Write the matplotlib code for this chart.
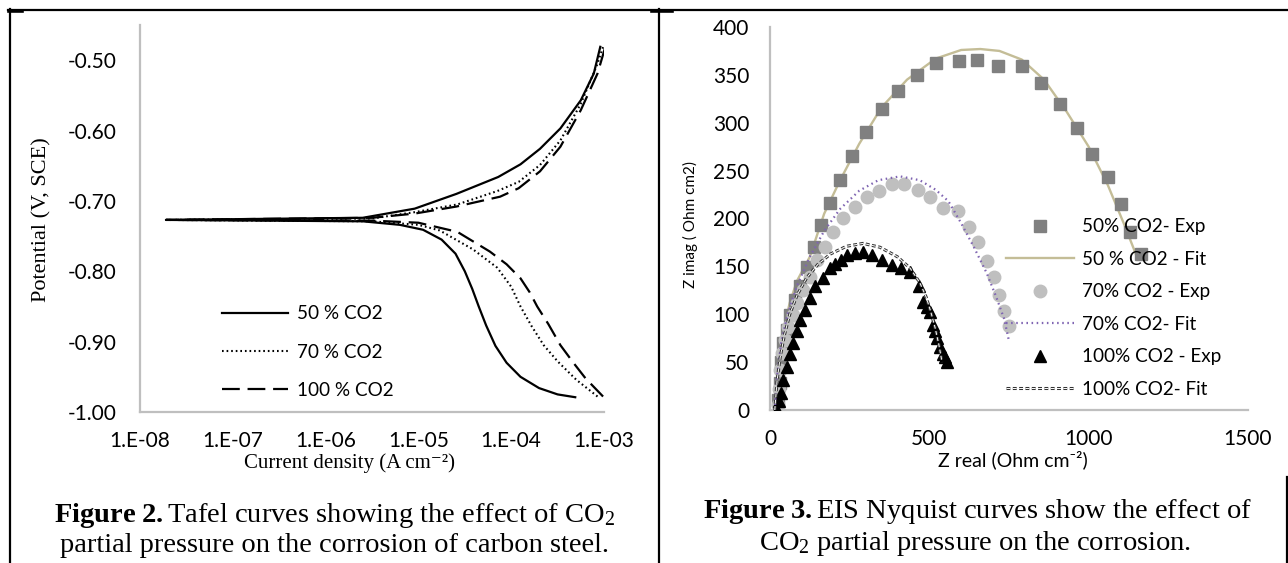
import matplotlib
matplotlib.use("Agg")
import numpy as np
import matplotlib.pyplot as plt
import matplotlib.patheffects as pe
from matplotlib.lines import Line2D
from matplotlib.ticker import FixedLocator, FuncFormatter, NullLocator

plt.rcParams["mathtext.fontset"] = "custom"
plt.rcParams["mathtext.rm"] = "Liberation Serif"
plt.rcParams["mathtext.it"] = "Liberation Serif:italic"
plt.rcParams["mathtext.bf"] = "Liberation Serif:bold"

SANS = ["Lato", "DejaVu Sans"]
SERIF = ["Liberation Serif", "DejaVu Serif"]
AXIS_GREY = "#BFBFBF"

# ---- Tafel curves (log10 of current density in A cm-2, potential in V vs SCE)
tafel_start_log_i = -7.72
tafel_start_E = -0.727

cath50_log_i = [-5.6, -5.2, -4.95, -4.75, -4.6, -4.5, -4.42, -4.35, -4.27, -4.17, -4.05, -3.9, -3.7, -3.5, -3.31]
cath50_E = [-0.729, -0.734, -0.741, -0.755, -0.775, -0.800, -0.825, -0.850, -0.877, -0.906, -0.930, -0.950, -0.966, -0.975, -0.979]
anod50_log_i = [-5.6, -5.04, -4.59, -4.14, -3.9, -3.69, -3.47, -3.25, -3.11, -3.04]
anod50_E = [-0.724, -0.711, -0.690, -0.666, -0.648, -0.626, -0.597, -0.557, -0.519, -0.481]

cath70_log_i = [-5.5, -5.0, -4.77, -4.41, -4.15, -4.0, -3.9, -3.78, -3.65, -3.5, -3.3, -3.07]
cath70_E = [-0.729, -0.734, -0.742, -0.769, -0.795, -0.822, -0.850, -0.878, -0.905, -0.928, -0.954, -0.978]
anod70_log_i = [-5.5, -5.04, -4.58, -4.15, -3.92, -3.69, -3.47, -3.25, -3.07, -3.01]
anod70_E = [-0.725, -0.716, -0.705, -0.686, -0.673, -0.649, -0.614, -0.562, -0.505, -0.481]

cath100_log_i = [-5.5, -5.0, -4.58, -4.23, -4.05, -3.9, -3.8, -3.72, -3.6, -3.47, -3.33, -3.2, -3.01]
cath100_E = [-0.728, -0.731, -0.744, -0.772, -0.790, -0.810, -0.830, -0.850, -0.875, -0.905, -0.930, -0.952, -0.978]
anod100_log_i = [-5.5, -5.04, -4.59, -4.12, -3.92, -3.69, -3.47, -3.25, -3.07, -2.99]
anod100_E = [-0.724, -0.718, -0.708, -0.694, -0.682, -0.658, -0.623, -0.571, -0.519, -0.483]

tafel_labels = ["50 % CO2", "70 % CO2", "100 % CO2"]

# ---- Nyquist data (Ohm cm2)
exp50_zr = [25, 30, 36, 42, 52, 63, 78, 94, 115, 137, 159, 187, 220, 257, 301, 352, 401, 460, 521, 592,
            651, 717, 792, 850, 909, 962, 1009, 1060, 1100, 1129, 1163]
exp50_zi = [10, 28, 50, 70, 84, 99, 115, 130, 149, 170, 193, 216, 240, 265, 290, 314, 333, 350, 362, 365,
            366, 359, 359, 341, 320, 295, 267, 243, 215, 186, 163]
fit50_zr = [15, 22, 32, 45, 62, 85, 125, 170, 220, 280, 350, 430, 520, 600, 660, 720, 790, 860, 930, 1000,
            1060, 1110, 1155]
fit50_zi = [0, 30, 60, 88, 112, 135, 160, 205, 240, 278, 316, 345, 367, 376, 377, 375, 366, 345, 312, 275,
            235, 195, 157]

exp70_zr = [25, 28, 32, 38, 47, 56, 72, 85, 104, 125, 147, 172, 198, 229, 267, 303, 342, 383, 422, 464,
            503, 543, 590, 623, 653, 682, 704, 718, 733, 750]
exp70_zi = [5, 22, 42, 60, 73, 87, 99, 112, 125, 139, 157, 170, 186, 201, 212, 222, 229, 236, 236, 230,
            222, 211, 208, 191, 175, 156, 139, 120, 103, 88]
fit70_zr = [15, 22, 35, 55, 85, 125, 170, 220, 280, 340, 408, 470, 520, 560, 600, 640, 680, 710, 735, 750]
fit70_zi = [0, 35, 70, 100, 130, 160, 187, 210, 229, 240, 244, 240, 230, 218, 195, 170, 143, 118, 95, 72]

exp100_zr = [22, 28, 34, 42, 52, 63, 72, 85, 94, 110, 125, 141, 166, 188, 205, 222, 241, 267, 292, 320,
             351, 383, 410, 440, 468, 480, 493, 502, 511, 518, 524, 534, 543, 549, 555]
exp100_zi = [0, 9, 18, 31, 45, 59, 70, 82, 94, 104, 117, 129, 138, 148, 153, 157, 162, 164, 165, 162,
             157, 151, 148, 144, 130, 113, 108, 102, 89, 82, 75, 66, 59, 55, 50]
fit100_zr = [15, 22, 32, 45, 62, 85, 115, 150, 190, 240, 292, 345, 400, 440, 470, 490, 505, 518, 530, 540]
fit100_zi = [0, 30, 55, 78, 100, 120, 138, 152, 163, 171, 174, 170, 160, 148, 133, 118, 102, 86, 68, 50]

nyq_labels = ["50% CO2- Exp", "50 % CO2 - Fit", "70% CO2 - Exp", "70% CO2- Fit",
              "100% CO2 - Exp", "100% CO2- Fit"]

W, H = 1288, 563
fig = plt.figure(figsize=(W / 100, H / 100), dpi=100)


def fx(x):
    return x / W


def fy(y):
    return 1 - y / H


def axes_at(x0, y0, x1, y1):
    return fig.add_axes([fx(x0), fy(y1), fx(x1) - fx(x0), fy(y0) - fy(y1)])


def style_axes(ax):
    for side in ("top", "right"):
        ax.spines[side].set_visible(False)
    for side in ("left", "bottom"):
        ax.spines[side].set_color(AXIS_GREY)
        ax.spines[side].set_linewidth(1.6)
    ax.tick_params(length=0)
    ax.set_facecolor("none")


def tafel_path(cath_log, cath_E, anod_log, anod_E):
    # cathodic branch back to Ecorr, out to the low-current end, then the anodic branch
    log_i = list(cath_log[::-1]) + [tafel_start_log_i] + list(anod_log)
    E = list(cath_E[::-1]) + [tafel_start_E] + list(anod_E)
    return np.power(10.0, log_i), np.array(E)


# ---------------- left: Tafel plot
ax1 = axes_at(140, 25, 604, 412)
style_axes(ax1)
ax1.set_xscale("log")
ax1.set_xlim(1e-8, 1e-3)
ax1.set_ylim(-1.0, -0.45)

i50, E50 = tafel_path(cath50_log_i, cath50_E, anod50_log_i, anod50_E)
i70, E70 = tafel_path(cath70_log_i, cath70_E, anod70_log_i, anod70_E)
i100, E100 = tafel_path(cath100_log_i, cath100_E, anod100_log_i, anod100_E)

l50, = ax1.plot(i50, E50, color="black", lw=1.6, solid_joinstyle="round")
l70, = ax1.plot(i70, E70, color="black", lw=1.5, linestyle=(0, (0.8, 1.4)))
l100, = ax1.plot(i100, E100, color="black", lw=1.6, linestyle=(0, (8, 3.5)))

ax1.xaxis.set_major_locator(FixedLocator([1e-8, 1e-7, 1e-6, 1e-5, 1e-4, 1e-3]))
ax1.xaxis.set_minor_locator(NullLocator())
ax1.xaxis.set_major_formatter(FuncFormatter(lambda v, p: "1.E%+03d" % int(round(np.log10(v)))))
ax1.yaxis.set_major_locator(FixedLocator([-1.0, -0.9, -0.8, -0.7, -0.6, -0.5]))
ax1.yaxis.set_major_formatter(FuncFormatter(lambda v, p: "%.2f" % v))
for lab in ax1.get_xticklabels() + ax1.get_yticklabels():
    lab.set_fontfamily(SANS)
    lab.set_fontsize(15)
ax1.tick_params(axis="y", pad=17)
ax1.tick_params(axis="x", pad=14)

fig.text(fx(42), fy(220), "Potential (V, SCE)", rotation=90, ha="center", va="center",
         family=SERIF, fontsize=16)
fig.text(fx(349), fy(463), "Current density (A cm\u207b\u00b2)", ha="center", va="center",
         family=SERIF, fontsize=15)

fig.legend([l50, l70, l100], tafel_labels, loc="center left",
           bbox_to_anchor=(fx(222), fy(352)), bbox_transform=fig.transFigure,
           frameon=False, borderpad=0, borderaxespad=0, handlelength=3.5,
           handletextpad=0.45, labelspacing=1.12, prop={"family": SANS, "size": 13.6})

# ---------------- right: Nyquist plot
ax2 = axes_at(770, 27, 1248, 410)
style_axes(ax2)
ax2.set_xlim(0, 1500)
ax2.set_ylim(0, 400)
ax2.set_xticks([0, 500, 1000, 1500])
ax2.set_yticks(np.arange(0, 401, 50))
for lab in ax2.get_xticklabels() + ax2.get_yticklabels():
    lab.set_fontfamily(SANS)
    lab.set_fontsize(15)
ax2.tick_params(axis="y", pad=15)
ax2.tick_params(axis="x", pad=14)

h_exp50, = ax2.plot(exp50_zr, exp50_zi, "s", color="#808080", ms=8, mec="#808080", zorder=3)
h_fit50, = ax2.plot(fit50_zr, fit50_zi, "-", color="#C4BD97", lw=1.7, zorder=2)
h_exp70, = ax2.plot(exp70_zr, exp70_zi, "o", color="#BFBFBF", ms=9, mec="#BFBFBF", zorder=3)
h_fit70, = ax2.plot(fit70_zr, fit70_zi, color="#7F64B2", lw=1.6, linestyle=(0, (0.7, 1.6)), zorder=4)
h_exp100, = ax2.plot(exp100_zr, exp100_zi, "^", color="black", ms=8.5, zorder=3)
h_fit100, = ax2.plot(fit100_zr, fit100_zi, color="white", lw=0.7, linestyle=(0, (4, 2.5)), zorder=4,
                     path_effects=[pe.Stroke(linewidth=2.2, foreground="#333333"), pe.Normal()])

fig.legend([h_exp50, h_fit50, h_exp70, h_fit70, h_exp100, h_fit100], nyq_labels,
           loc="center left", bbox_to_anchor=(fx(1006), fy(308)), bbox_transform=fig.transFigure,
           frameon=False, borderpad=0, borderaxespad=0, handlelength=3.6, numpoints=1,
           handletextpad=0.42, labelspacing=0.82, prop={"family": SANS, "size": 13.6})

fig.text(fx(690), fy(225), "Z imag ( Ohm cm2)", rotation=90, ha="center", va="center",
         family=SANS, fontsize=11)
fig.text(fx(1013), fy(460), "Z real (Ohm cm\u207b\u00b2)", ha="center", va="center",
         family=SANS, fontsize=14)

# ---------------- captions
fig.text(fx(335), fy(515), r"$\mathbf{Figure\ 2.}$Tafel curves showing the effect of CO$_2$",
         ha="center", va="center", family=SERIF, fontsize=20.5)
fig.text(fx(335), fy(545), "partial pressure on the corrosion of carbon steel.",
         ha="center", va="center", family=SERIF, fontsize=20.5)
fig.text(fx(977), fy(512), r"$\mathbf{Figure\ 3.}$EIS Nyquist curves show the effect of",
         ha="center", va="center", family=SERIF, fontsize=20.5)
fig.text(fx(975), fy(543), r"CO$_2$ partial pressure on the corrosion.",
         ha="center", va="center", family=SERIF, fontsize=20.5)

# ---------------- table rules around the two panels
rules = [((8, 1288), (9.5, 9.5), 1.6),
         ((9.5, 9.5), (9, 563), 1.6),
         ((659, 659), (9, 563), 1.6),
         ((1287, 1287), (477, 563), 1.6),
         ((9, 22), (11, 11), 2.6),
         ((652, 672), (11, 11), 2.6)]
for xs, ys, lw in rules:
    fig.add_artist(Line2D([fx(x) for x in xs], [fy(y) for y in ys], color="black", lw=lw,
                          transform=fig.transFigure))

fig.savefig("out.png", dpi=100)
